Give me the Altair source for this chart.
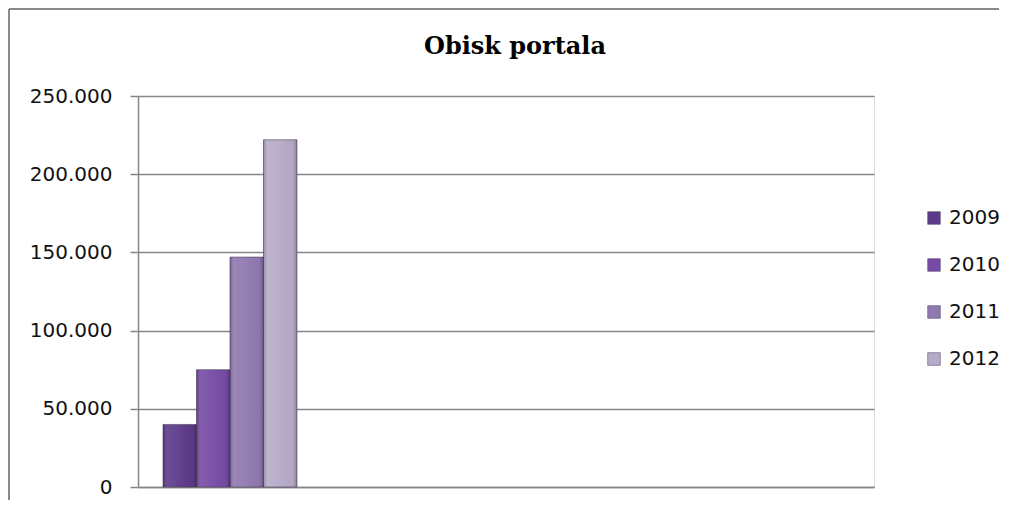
import altair as alt
import pandas as pd

# Data
categories = ["k1", "k2", "k3", "k4"]          # x-axis slots (unlabelled), only the first has data
years = ["2009", "2010", "2011", "2012"]
visits = [40000, 75000, 147000, 222000]
colors = ["#5d3a8a", "#774ba5", "#9079b1", "#b6abc8"]
y_ticks = [0, 50000, 100000, 150000, 200000, 250000]
title_text = "Obisk portala"

df = pd.DataFrame({"cat": [categories[0]] * len(years), "year": years, "visits": visits})

PW, PH = 736, 391
PAD_L, PAD_T = 130, 88
TOTAL_W, TOTAL_H = 994, 492
PAD_R = TOTAL_W - PAD_L - PW
PAD_B = TOTAL_H - PAD_T - PH

x_enc = alt.X("cat:N", scale=alt.Scale(domain=categories, paddingInner=0.272, paddingOuter=0.136),
              axis=alt.Axis(title=None, labels=False, ticks=False, domain=True,
                            domainColor="#868686", domainWidth=1.5, grid=False))
xo_enc = alt.XOffset("year:N", scale=alt.Scale(domain=years, paddingInner=0, paddingOuter=0))
y_enc = alt.Y("visits:Q",
              scale=alt.Scale(domain=[0, 250000], nice=False),
              axis=alt.Axis(title=None, values=y_ticks,
                            labelExpr="replace(format(datum.value, ','), ',', '.')",
                            labelFont="DejaVu Sans", labelFontSize=20, labelColor="#111111",
                            labelPadding=18, tickSize=8, tickColor="#868686", tickWidth=1.5,
                            domainColor="#868686", domainWidth=1.5,
                            grid=True, gridColor="#868686", gridWidth=1.5))

bars = alt.Chart(df).mark_bar(stroke="#4a3d5c", strokeWidth=1, strokeOpacity=0.6).encode(
    x=x_enc, xOffset=xo_enc, y=y_enc,
    color=alt.Color("year:N", scale=alt.Scale(domain=years, range=colors),
                    legend=alt.Legend(title=None, orient="none", legendX=786, legendY=112,
                                      symbolType="square", symbolSize=160,
                                      symbolStrokeColor="#4a3d5c", symbolStrokeWidth=0.5,
                                      labelFont="DejaVu Sans", labelFontSize=20,
                                      labelColor="#111111", labelOffset=5, rowPadding=27)),
)

shade = alt.Chart(df).mark_bar(
    fill=alt.Gradient(gradient="linear", x1=0, x2=1, y1=0, y2=0,
                      stops=[alt.GradientStop(offset=0, color="rgba(0,0,0,0.22)"),
                             alt.GradientStop(offset=0.12, color="rgba(255,255,255,0.10)"),
                             alt.GradientStop(offset=0.5, color="rgba(255,255,255,0.04)"),
                             alt.GradientStop(offset=0.88, color="rgba(0,0,0,0.02)"),
                             alt.GradientStop(offset=1, color="rgba(0,0,0,0.25)")])
).encode(x=x_enc, xOffset=xo_enc, y=y_enc)

frame_top = alt.Chart(df).mark_rule(color="#8a8a8a", strokeWidth=1.5, clip=False).encode(
    x=alt.value(-PAD_L + 1), x2=alt.value(PW + PAD_R - 3), y=alt.value(-PAD_T + 1),
)
frame_left = alt.Chart(df).mark_rule(color="#8a8a8a", strokeWidth=1.5, clip=False).encode(
    x=alt.value(-PAD_L + 1), y=alt.value(-PAD_T + 1), y2=alt.value(PH + PAD_B),
)

title = alt.Chart(pd.DataFrame({"t": [title_text]})).mark_text(
    font="DejaVu Serif", fontSize=24, fontWeight="bold", color="#000000",
    align="center", baseline="alphabetic", clip=False
).encode(text="t:N", x=alt.value(PW / 2 + 9), y=alt.value(-42))

chart = alt.layer(frame_top, frame_left, bars, shade, title).properties(
    width=PW, height=PH,
    padding={"left": PAD_L, "top": PAD_T, "right": PAD_R, "bottom": PAD_B},
    autosize=alt.AutoSizeParams(type="none"),
).configure_view(stroke=None).configure(background="white")

chart.save("out.html", embed_options={"renderer": "svg", "actions": False})
